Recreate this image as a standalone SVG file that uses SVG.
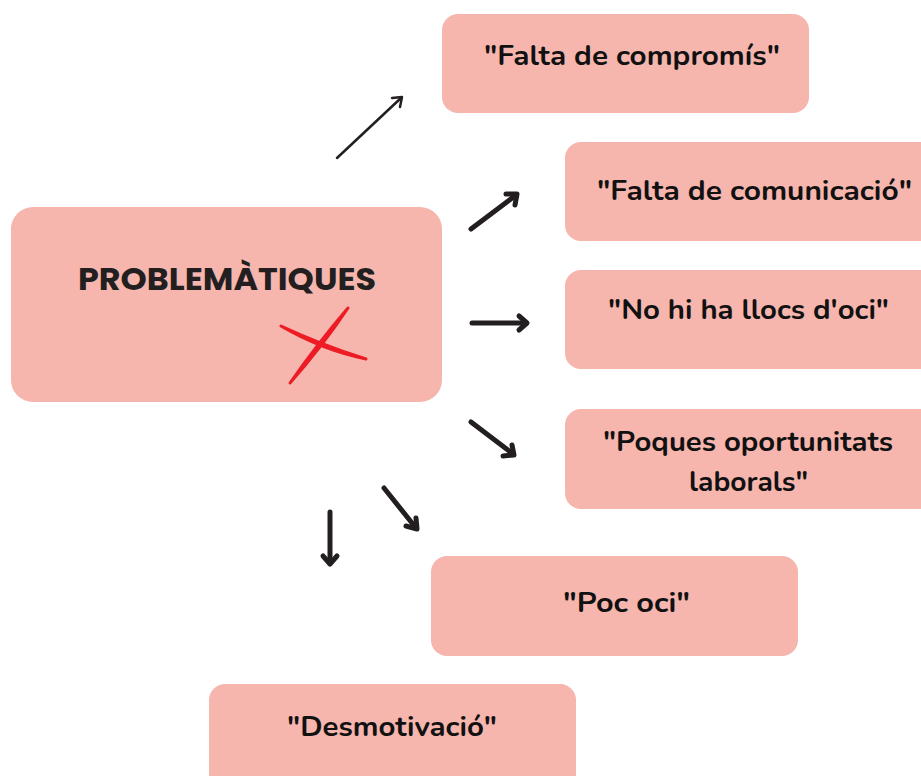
<svg xmlns="http://www.w3.org/2000/svg" width="921" height="776" viewBox="0 0 921 776">
<style>
.box{fill:#f6b5ad}
.t{font-family:"Nunito","Lato","Open Sans",sans-serif;font-weight:700;fill:#111;text-anchor:middle;font-size:27px}
.title{font-family:"Poppins","Inter","Open Sans",sans-serif;font-weight:700;fill:#231f20;text-anchor:middle;font-size:31px}
.a{fill:none;stroke:#231f20;stroke-linecap:round;stroke-linejoin:round}
</style>
<rect width="921" height="776" fill="#fff"/>
<g id="main">
<rect class="box" x="11" y="207" width="431" height="195" rx="22"/>
<text class="title" x="227" y="290" textLength="298" lengthAdjust="spacingAndGlyphs">PROBLEMÀTIQUES</text>
<path d="M290,383 Q318,343 348,308 Q322,347 290,383 Z" fill="#ed1c24" stroke="#ed1c24" stroke-width="3" stroke-linejoin="round"/>
<path d="M281,326 Q322,345 366,359 Q322,350 281,326 Z" fill="#ed1c24" stroke="#ed1c24" stroke-width="3" stroke-linejoin="round"/>
</g>
<g id="n1">
<rect class="box" x="442" y="14" width="367" height="99" rx="16"/>
<text class="t" x="632" y="65" textLength="296" lengthAdjust="spacingAndGlyphs">"Falta de compromís"</text>
</g>
<g id="n2">
<rect class="box" x="565" y="142" width="370" height="99" rx="16"/>
<text class="t" x="754.5" y="200" textLength="315" lengthAdjust="spacingAndGlyphs">"Falta de comunicació"</text>
</g>
<g id="n3">
<rect class="box" x="565" y="270" width="370" height="99" rx="16"/>
<text class="t" x="748.5" y="319" textLength="281" lengthAdjust="spacingAndGlyphs">"No hi ha llocs d'oci"</text>
</g>
<g id="n4">
<rect class="box" x="565" y="409" width="370" height="100" rx="16"/>
<text class="t" x="748" y="451" textLength="290" lengthAdjust="spacingAndGlyphs">"Poques oportunitats</text>
<text class="t" x="748.5" y="491" textLength="119" lengthAdjust="spacingAndGlyphs">laborals"</text>
</g>
<g id="n5">
<rect class="box" x="431" y="556" width="367" height="100" rx="16"/>
<text class="t" x="626.5" y="612" textLength="127" lengthAdjust="spacingAndGlyphs">"Poc oci"</text>
</g>
<g id="n6">
<rect class="box" x="209" y="684" width="367" height="110" rx="16"/>
<text class="t" x="392" y="736" textLength="210" lengthAdjust="spacingAndGlyphs">"Desmotivació"</text>
</g>
<g id="connectors">
<g class="a" stroke-width="2.5">
<path d="M337,158 L401,98"/>
<path d="M392,98 L402,97 L400,107"/>
</g>
<g class="a" stroke-width="5">
<path d="M471,229 L516,195"/>
<path d="M506,194 L517,194 L515,205"/>
<path d="M472,323 L526,323"/>
<path d="M519,316 L527,323 L519,330"/>
<path d="M471,422 L513,454"/>
<path d="M503,456 L514,455 L512,445"/>
<path d="M384,488 L416,528"/>
<path d="M406,526 L417,529 L416,518"/>
<path d="M330,512 L330,563"/>
<path d="M323,556 L330,564 L337,556"/>
</g>
</g>
</svg>
